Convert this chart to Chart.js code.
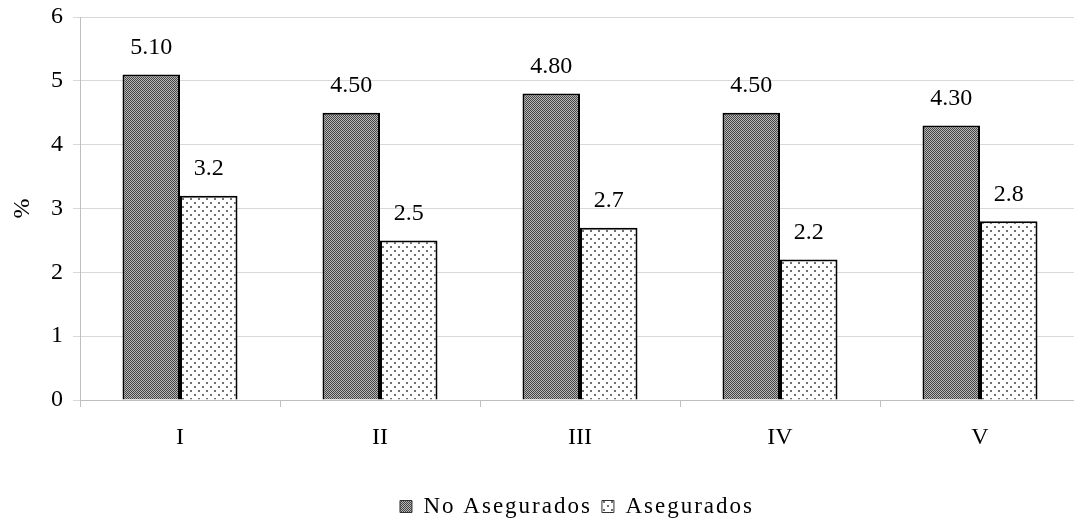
<!DOCTYPE html>
<html>
<head>
<meta charset="utf-8">
<script src="https://cdn.jsdelivr.net/npm/chart.js@4.4.1/dist/chart.umd.min.js"></script>
<style>
html,body{margin:0;padding:0;background:#fff;overflow:hidden;}
canvas{display:block;}
</style>
</head>
<body>
<canvas id="c" width="1160" height="521"></canvas>
<script>
const el=id=>document.getElementById(id);
Chart.defaults.font.family='"Liberation Serif","Times New Roman",serif';
Chart.defaults.color="#000";

const CATS=["I","II","III","IV","V"];
const NO_ASEG=[5.10,4.50,4.80,4.50,4.30];
const ASEG=[3.2,2.5,2.7,2.2,2.8];
const Y_TICKS=[0,1,2,3,4,5,6];

// patrones de relleno
function pattern(size,draw){
  const c=document.createElement("canvas"); c.width=size; c.height=size;
  const x=c.getContext("2d"); draw(x);
  return x.createPattern(c,"repeat");
}
const darkFill=pattern(2,x=>{x.fillStyle="#b8b8b8";x.fillRect(0,0,2,2);x.fillStyle="#444";x.fillRect(0,0,1,1);x.fillRect(1,1,1,1);});
const dotFill=pattern(8,x=>{x.fillStyle="#fff";x.fillRect(0,0,8,8);x.fillStyle="#707070";x.fillRect(2,2,2,2);x.fillRect(6,6,2,2);});

const barLabels={id:"barLabels",afterDatasetsDraw(chart){
  const ctx=chart.ctx; ctx.save();
  ctx.font='24px "Liberation Serif"';
  ctx.fillStyle="#000"; ctx.textAlign="center"; ctx.textBaseline="middle";
  chart.data.datasets.forEach((ds,i)=>{
    chart.getDatasetMeta(i).data.forEach((b,j)=>{
      ctx.fillText(ds.data[j].toFixed(ds.decimals),b.x,b.y-27);
    });
  });
  ctx.restore();
}};

const chart=new Chart(el("c"),{type:"bar",
  data:{labels:CATS,datasets:[
    {label:"No Asegurados",data:NO_ASEG,decimals:2,backgroundColor:darkFill,borderColor:"#000",borderWidth:2,borderSkipped:"bottom"},
    {label:"Asegurados",data:ASEG,decimals:1,backgroundColor:dotFill,borderColor:"#000",borderWidth:2,borderSkipped:"bottom"},
  ]},
  options:{responsive:false,animation:false,
    layout:{padding:{top:17,right:80,left:0,bottom:0}},
    datasets:{bar:{categoryPercentage:0.575,barPercentage:1}},
    scales:{
      x:{grid:{drawOnChartArea:false,drawTicks:true,tickLength:7,color:"#bfbfbf"},
         border:{color:"#bfbfbf"},
         ticks:{font:{size:24},padding:16,color:"#000"},
         afterFit:s=>{s.height=78;s.paddingLeft=0;s.paddingRight=0;}},
      y:{min:0,max:6,afterBuildTicks:s=>{s.ticks=Y_TICKS.map(v=>({value:v}));},
         grid:{color:"#d9d9d9",tickLength:7,tickColor:"#d9d9d9"},
         border:{color:"#bfbfbf"},
         ticks:{font:{size:24},padding:10,color:"#000"},
         title:{display:true,text:"%",font:{size:24},padding:{top:8,bottom:0}},
         afterFit:s=>{s.width=80;s.paddingTop=0;s.paddingBottom=0;}}
    },
    plugins:{tooltip:{enabled:false},
      legend:{position:"bottom",labels:{font:{size:23},boxWidth:12,boxHeight:12,padding:10,color:"#000",
        generateLabels:ch=>ch.data.datasets.map((d,i)=>({text:d.label,fillStyle:d.backgroundColor,strokeStyle:"#333",lineWidth:1,datasetIndex:i}))}}}
  },
  plugins:[barLabels]
});

// leyenda: letras más espaciadas y desplazada como en el original
const lg=chart.legend;
const fit0=lg.fit.bind(lg), draw0=lg.draw.bind(lg);
lg.fit=function(){const c=chart.ctx; c.letterSpacing="2px"; fit0(); c.letterSpacing="0px";};
lg.draw=function(){const c=chart.ctx; c.save(); c.translate(37,7); c.letterSpacing="2px"; draw0(); c.letterSpacing="0px"; c.restore();};
chart.update();
</script>
</body>
</html>
